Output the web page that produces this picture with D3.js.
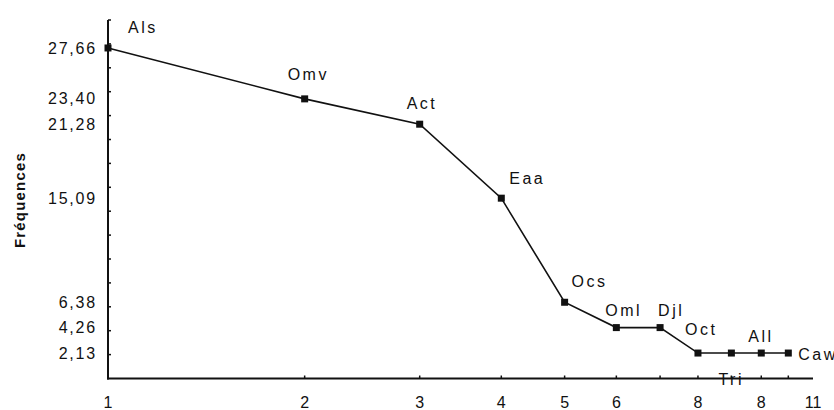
<!DOCTYPE html>
<html>
<head>
<meta charset="utf-8">
<script src="https://cdn.jsdelivr.net/npm/d3@7"></script>
<style>
  html, body { margin: 0; padding: 0; background: #fff; }
  svg { display: block; }
  text { font-family: "Liberation Sans", Arial, sans-serif; fill: #111; }
</style>
</head>
<body>
<svg id="chart" width="834" height="410"></svg>
<script>
// Species codes, their rank, and their frequency (%)
const species = ["Als", "Omv", "Act", "Eaa", "Ocs", "Oml", "Djl", "Oct", "Tri", "All", "Caw"];
const ranks = [1, 2, 3, 4, 5, 6, 7, 8, 9, 10, 11];
const frequencies = [27.66, 23.40, 21.28, 15.09, 6.38, 4.26, 4.26, 2.13, 2.13, 2.13, 2.13];

// Y-axis labelled values and minor tick values
const yLabelValues = [27.66, 23.40, 21.28, 15.09, 6.38, 4.26, 2.13];
const yLabelTexts = ["27,66", "23,40", "21,28", "15,09", "6,38", "4,26", "2,13"];
const yMinorTicks = [2, 4, 6, 8, 10, 12, 14, 16, 18, 20, 22, 24, 26, 28, 30];

// X-axis tick ranks and the labels printed under some of them
const xTickRanks = [2, 3, 4, 5, 6, 7, 8, 9, 10, 11];
const xLabelRanks = [1, 2, 3, 4, 5, 6, 8, 10, 12];
const xLabelTexts = ["1", "2", "3", "4", "5", "6", "8", "8", "11"];

// Label placement next to each point (dx, dy from the marker)
const labelOffsets = [[20, -15], [-17, -19], [-13, -15], [8, -14], [7, -15], [-11, -12],
                      [-2, -12], [-13, -18], [-13, 32], [-13, -11], [10, 7]];

const svg = d3.select("#chart");

const x = d3.scaleLog().domain([1, 12]).range([108, 813]);
const y = d3.scaleLinear().domain([0, 30]).range([378.5, 20]);

const axisColor = "#111";

// Y axis line
svg.append("line")
  .attr("x1", 108).attr("x2", 108)
  .attr("y1", y(30)).attr("y2", y(0) + 1)
  .attr("stroke", axisColor).attr("stroke-width", 2);

// X axis line
svg.append("line")
  .attr("x1", 107).attr("x2", x(12))
  .attr("y1", y(0)).attr("y2", y(0))
  .attr("stroke", axisColor).attr("stroke-width", 2);

// Y minor ticks pointing into the plot
svg.append("g").selectAll("line").data(yMinorTicks).join("line")
  .attr("x1", 108).attr("x2", 111)
  .attr("y1", d => y(d)).attr("y2", d => y(d))
  .attr("stroke", axisColor).attr("stroke-width", 1.5);

// Y labels at the observed frequencies
svg.append("g").selectAll("text").data(yLabelValues).join("text")
  .attr("x", 97)
  .attr("y", d => y(d))
  .attr("dy", "0.35em")
  .attr("text-anchor", "end")
  .attr("font-size", 16)
  .attr("letter-spacing", 1.8)
  .text((d, i) => yLabelTexts[i]);

// X ticks pointing up
svg.append("g").selectAll("line").data(xTickRanks).join("line")
  .attr("x1", d => x(d)).attr("x2", d => x(d))
  .attr("y1", y(0)).attr("y2", y(0) - 3)
  .attr("stroke", axisColor).attr("stroke-width", 1.5);

// X labels
svg.append("g").selectAll("text").data(xLabelRanks).join("text")
  .attr("x", d => x(d))
  .attr("y", 408)
  .attr("text-anchor", "middle")
  .attr("font-size", 16)
  .text((d, i) => xLabelTexts[i]);

// Axis title
svg.append("text")
  .attr("transform", "translate(25,200) rotate(-90)")
  .attr("text-anchor", "middle")
  .attr("font-size", 15)
  .attr("font-weight", "bold")
  .attr("letter-spacing", 1.2)
  .text("Fréquences");

// Rank-frequency line
const pts = ranks.map((r, i) => [r, frequencies[i]]);
svg.append("path")
  .datum(pts)
  .attr("fill", "none")
  .attr("stroke", "#111")
  .attr("stroke-width", 1.6)
  .attr("d", d3.line().x(d => x(d[0])).y(d => y(d[1])));

// Square markers
svg.append("g").selectAll("rect").data(pts).join("rect")
  .attr("x", d => x(d[0]) - 3.5)
  .attr("y", d => y(d[1]) - 3.5)
  .attr("width", 7).attr("height", 7)
  .attr("fill", "#111");

// Species labels
svg.append("g").selectAll("text").data(pts).join("text")
  .attr("x", (d, i) => x(d[0]) + labelOffsets[i][0])
  .attr("y", (d, i) => y(d[1]) + labelOffsets[i][1])
  .attr("font-size", 16)
  .attr("letter-spacing", 2.5)
  .text((d, i) => species[i]);
</script>
</body>
</html>
